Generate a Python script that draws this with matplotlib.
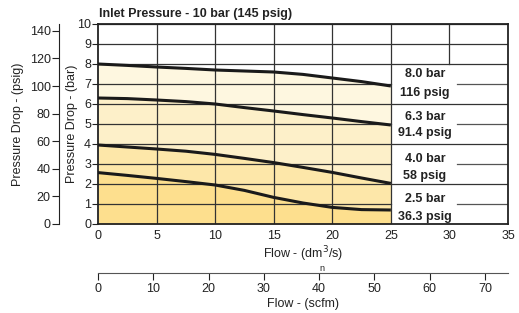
import matplotlib
matplotlib.use('Agg')
import matplotlib.pyplot as plt

plt.rcParams['font.family'] = ['Liberation Sans', 'DejaVu Sans']

# flow in dm3/s and pressure drop curves in bar
flow = [0, 2.5, 5, 7.5, 10, 12.5, 15, 17.5, 20, 22.5, 25]
bar_80 = [8.0, 7.93, 7.85, 7.78, 7.7, 7.65, 7.6, 7.48, 7.3, 7.12, 6.9]
bar_63 = [6.3, 6.27, 6.2, 6.12, 6.0, 5.82, 5.65, 5.47, 5.3, 5.12, 4.95]
bar_40 = [3.95, 3.85, 3.75, 3.64, 3.48, 3.28, 3.07, 2.83, 2.58, 2.3, 2.03]
bar_25 = [2.57, 2.43, 2.28, 2.12, 1.95, 1.68, 1.33, 1.05, 0.83, 0.72, 0.7]

curve_labels = [('8.0 bar', '116 psig'), ('6.3 bar', '91.4 psig'),
                ('4.0 bar', '58 psig'), ('2.5 bar', '36.3 psig')]
label_y = [(7.5, 6.55), (5.35, 4.55), (3.25, 2.4), (1.25, 0.35)]

x_ticks = [0, 5, 10, 15, 20, 25, 30, 35]
bar_ticks = list(range(0, 11))
psig_ticks = [0, 20, 40, 60, 80, 100, 120, 140]
scfm_ticks = [0, 10, 20, 30, 40, 50, 60, 70]

BAR2PSIG = 14.5
DM3S2SCFM = 2.119

fig = plt.figure(figsize=(5.19, 3.13), dpi=100)
ax = fig.add_axes([98/519, 1-224/313, 410/519, 200/313])
ax.set_xlim(0, 35)
ax.set_ylim(0, 10)

# shaded bands between curves
ax.fill_between(flow, bar_63, bar_80, color='#FEF7E0', lw=0, zorder=1)
ax.fill_between(flow, bar_40, bar_63, color='#FDF0C9', lw=0, zorder=1)
ax.fill_between(flow, bar_25, bar_40, color='#FDE7A9', lw=0, zorder=1)
ax.fill_between(flow, 0, bar_25, color='#FDDF8E', lw=0, zorder=1)

gc = '#333333'
for x in [5, 10, 15, 20, 25]:
    ax.axvline(x, color=gc, lw=0.9, zorder=2)
ax.plot([30, 30], [8, 10], color=gc, lw=0.9, zorder=2)
for y in bar_ticks[1:]:
    if y in (1, 3, 5, 7):
        ax.plot([0, 25], [y, y], color=gc, lw=0.9, zorder=2)
        ax.plot([30.65, 35], [y, y], color='#555555', lw=0.9, zorder=2)
    else:
        ax.axhline(y, color=gc, lw=0.9, zorder=2)

for yy in [bar_80, bar_63, bar_40, bar_25]:
    ax.plot(flow, yy, color='#1a1a1a', lw=2.2, zorder=3, solid_capstyle='butt')

for (t1, t2), (y1, y2) in zip(curve_labels, label_y):
    ax.text(27.9, y1, t1, ha='center', va='center', fontsize=9, fontweight='bold', color='#222222')
    ax.text(27.9, y2, t2, ha='center', va='center', fontsize=9, fontweight='bold', color='#222222')

for s in ax.spines.values():
    s.set_color('#222222')
    s.set_linewidth(1.3)

ax.set_xticks(x_ticks)
ax.set_yticks(bar_ticks)
ax.tick_params(axis='x', length=0, labelsize=9, pad=4, colors='#222222')
ax.tick_params(axis='y', length=4, labelsize=9, pad=1, colors='#222222')
ax.set_xlabel('Flow - (dm$^3$/s)', fontsize=9, labelpad=2, color='#222222')
ax.set_ylabel('Pressure Drop - (bar)', fontsize=9, color='#222222')
ax.yaxis.set_label_coords(78/519, 1-124/313, transform=fig.transFigure)
ax.text(0.003, 1.02, 'Inlet Pressure - 10 bar (145 psig)', transform=ax.transAxes,
        fontsize=9, fontweight='bold', ha='left', va='bottom', color='#222222')
ax.text(0.545, -0.221, 'n', transform=ax.transAxes, fontsize=6.5, ha='center', va='center', color='#222222')

# psig axis
psig = ax.secondary_yaxis(-0.095, functions=(lambda b: b*BAR2PSIG, lambda p: p/BAR2PSIG))
psig.set_yticks(psig_ticks)
psig.tick_params(length=5, labelsize=9, pad=1, colors='#222222')
psig.spines['left'].set_color('#222222')
psig.set_ylabel('Pressure Drop - (psig)', fontsize=9, color='#222222')
psig.yaxis.set_label_coords(24/519, 1-124/313, transform=fig.transFigure)

# scfm axis
scfm = ax.secondary_xaxis(-0.245, functions=(lambda d: d*DM3S2SCFM, lambda s: s/DM3S2SCFM))
scfm.set_xticks(scfm_ticks)
scfm.tick_params(length=5, labelsize=9, pad=2, colors='#222222')
scfm.spines['bottom'].set_color('#555555')
scfm.set_xlabel('Flow - (scfm)', fontsize=9, labelpad=2, color='#222222')

fig.savefig('out.png', dpi=100)
